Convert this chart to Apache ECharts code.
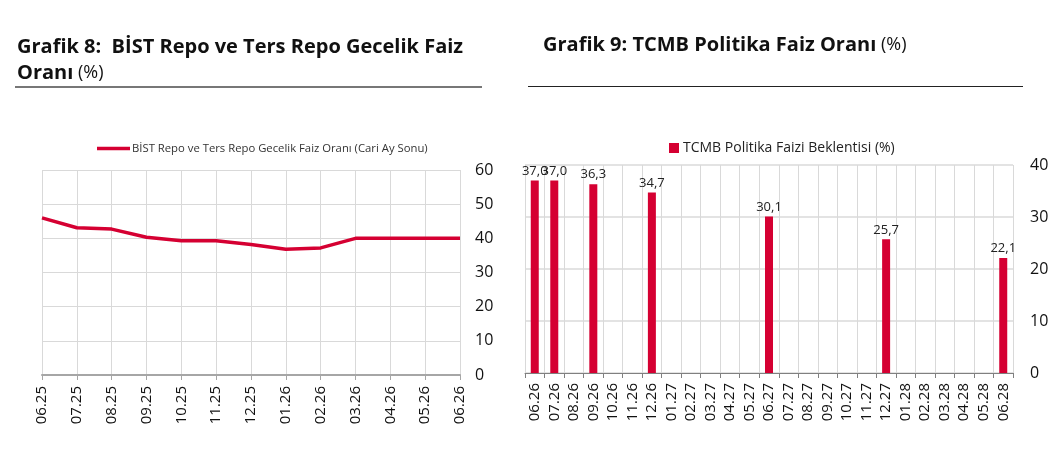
<!DOCTYPE html>
<html>
<head>
<meta charset="utf-8">
<script src="https://cdn.jsdelivr.net/npm/echarts@6/dist/echarts.min.js"></script>
<style>
  html, body { margin: 0; padding: 0; background: #fff; }
  #main { width: 1063px; height: 466px; }
</style>
</head>
<body>
<div id="main"></div>
<script>
// Grafik 8 - BIST repo rate, month-end
const repoMonths = ["06.25", "07.25", "08.25", "09.25", "10.25", "11.25", "12.25",
  "01.26", "02.26", "03.26", "04.26", "05.26", "06.26"];
const repoRates = [46.0, 43.1, 42.7, 40.3, 39.3, 39.3, 38.2, 36.8, 37.2, 40.0, 40.0, 40.0, 40.0];

// Grafik 9 - TCMB policy rate expectations
const policyMonths = ["06.26", "07.26", "08.26", "09.26", "10.26", "11.26", "12.26",
  "01.27", "02.27", "03.27", "04.27", "05.27", "06.27", "07.27", "08.27", "09.27",
  "10.27", "11.27", "12.27", "01.28", "02.28", "03.28", "04.28", "05.28", "06.28"];
const policyRates = [37.0, 37.0, null, 36.3, null, null, 34.7, null, null, null, null, null,
  30.1, null, null, null, null, null, 25.7, null, null, null, null, null, 22.1];

const RED = "#d50032";
const FONT = "Open Sans";

const chart = echarts.init(document.getElementById("main"), null, { renderer: "canvas" });

const titleRich = {
  b: { fontFamily: FONT, fontWeight: "bold", fontSize: 20, color: "#111", lineHeight: 26 },
  n: { fontFamily: FONT, fontWeight: "normal", fontSize: 18, color: "#111", lineHeight: 26 }
};

chart.setOption({
  animation: false,
  backgroundColor: "#fff",
  textStyle: { fontFamily: FONT },
  title: [
    {
      text: "{b|Grafik 8:  BİST Repo ve Ters Repo Gecelik Faiz}\n{b|Oranı} {n|(%)}",
      left: 17, top: 34,
      padding: 0,
      textStyle: { rich: titleRich }
    },
    {
      text: "{b|Grafik 9: TCMB Politika Faiz Oranı} {n|(%)}",
      left: 543, top: 32,
      padding: 0,
      textStyle: { rich: titleRich }
    }
  ],
  graphic: [
    { type: "line", shape: { x1: 15, y1: 87, x2: 482, y2: 87 }, style: { stroke: "#777", lineWidth: 2 } },
    { type: "line", shape: { x1: 528, y1: 86.5, x2: 1023, y2: 86.5 }, style: { stroke: "#222", lineWidth: 1 } }
  ],
  legend: [
    {
      data: [{ name: "BİST Repo ve Ters Repo Gecelik Faiz Oranı (Cari Ay Sonu)", icon: "path://M0,0 L10,0 L10,1 L0,1 Z" }],
      left: 92, top: 138,
      itemWidth: 33, itemHeight: 4, itemGap: 4,
      textStyle: { fontFamily: FONT, fontSize: 11.3, color: "#333", padding: [0, 0, 0, -3] }
    },
    {
      data: [{ name: "TCMB Politika Faizi Beklentisi (%)", icon: "rect" }],
      left: 664, top: 136,
      itemWidth: 10, itemHeight: 10, itemGap: 4,
      textStyle: { fontFamily: FONT, fontSize: 14, color: "#222", padding: [0, 0, 0, -1] }
    }
  ],
  grid: [
    { left: 42, top: 170, width: 418, height: 205 },
    { left: 525, top: 165, width: 488, height: 208 }
  ],
  xAxis: [
    {
      type: "category", gridIndex: 0, data: repoMonths, boundaryGap: false,
      axisLine: { lineStyle: { color: "#a6a6a6", width: 2 } },
      axisTick: { show: true, length: 5, lineStyle: { color: "#a6a6a6", width: 1 } },
      splitLine: { show: true, interval: 0, lineStyle: { color: "#d9d9d9", width: 1 } },
      axisLabel: { rotate: 90, interval: 0, margin: 11, fontSize: 15, color: "#111", fontFamily: FONT }
    },
    {
      type: "category", gridIndex: 1, data: policyMonths, boundaryGap: true,
      axisLine: { lineStyle: { color: "#808080", width: 1 } },
      axisTick: { show: true, length: 5, interval: 0, lineStyle: { color: "#808080", width: 1 } },
      splitLine: { show: true, interval: 0, lineStyle: { color: "#d9d9d9", width: 1 } },
      axisLabel: { rotate: 90, interval: 0, margin: 10, fontSize: 15, color: "#111", fontFamily: FONT }
    }
  ],
  yAxis: [
    {
      type: "value", gridIndex: 0, position: "right", min: 0, max: 60, interval: 10,
      axisLine: { show: false }, axisTick: { show: false },
      splitLine: { lineStyle: { color: "#d9d9d9", width: 1 } },
      axisLabel: { margin: 15, fontSize: 16, color: "#111", fontFamily: FONT }
    },
    {
      type: "value", gridIndex: 1, position: "right", min: 0, max: 40, interval: 10,
      axisLine: { show: false }, axisTick: { show: false },
      splitLine: { lineStyle: { color: "#e3e3e3", width: 2 } },
      axisLabel: { margin: 17, fontSize: 16, color: "#111", fontFamily: FONT }
    }
  ],
  series: [
    {
      name: "BİST Repo ve Ters Repo Gecelik Faiz Oranı (Cari Ay Sonu)",
      type: "line", xAxisIndex: 0, yAxisIndex: 0,
      data: repoRates,
      showSymbol: false, symbol: "none",
      lineStyle: { color: RED, width: 3.5 },
      itemStyle: { color: RED }
    },
    {
      name: "TCMB Politika Faizi Beklentisi (%)",
      type: "bar", xAxisIndex: 1, yAxisIndex: 1,
      data: policyRates,
      barWidth: 8,
      itemStyle: { color: RED },
      label: {
        show: true, position: "top", distance: 3,
        fontSize: 13, color: "#222", fontFamily: FONT,
        formatter: (p) => p.value == null ? "" : p.value.toFixed(1).replace(".", ",")
      }
    }
  ]
});
</script>
</body>
</html>
